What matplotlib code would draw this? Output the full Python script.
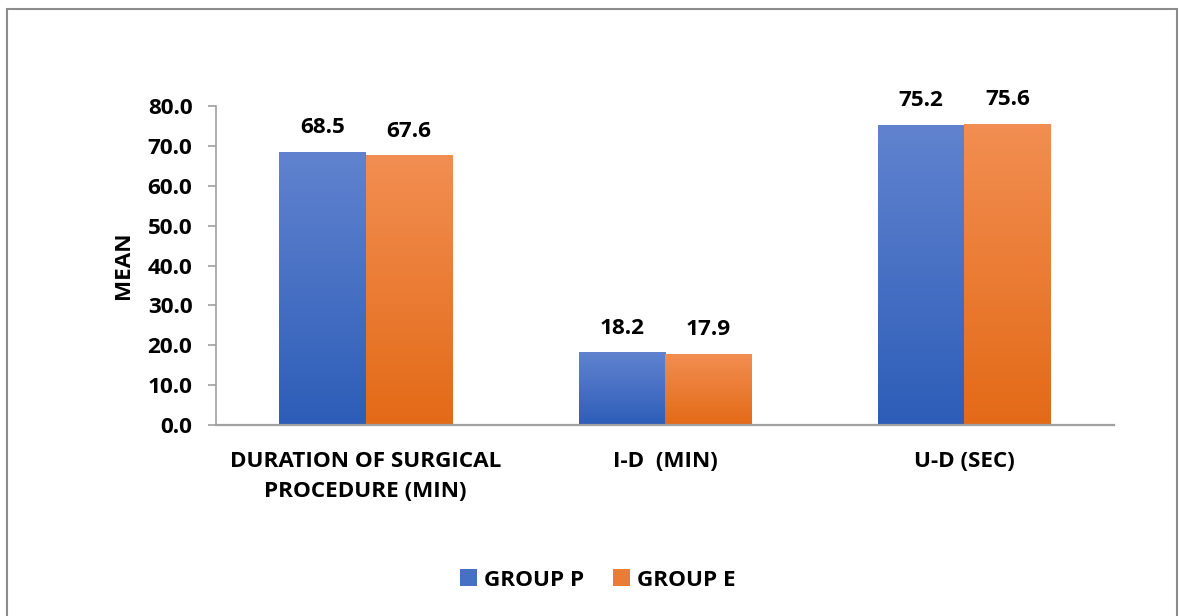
import numpy as np
import matplotlib.pyplot as plt
from matplotlib.colors import LinearSegmentedColormap
from matplotlib.patches import Rectangle

plt.rcParams['font.family'] = ['Open Sans', 'DejaVu Sans']
plt.rcParams['font.weight'] = 'bold'

categorias = ['DURATION OF SURGICAL\nPROCEDURE (MIN)', 'I-D  (MIN)', 'U-D (SEC)']
grupo_p = [68.5, 18.2, 75.2]
grupo_e = [67.6, 17.9, 75.6]
grupos = ['GROUP P', 'GROUP E']

# cores do gradiente (topo -> base)
cores = {
    'GROUP P': ('#6183cf', '#2d5db8'),
    'GROUP E': ('#f28e52', '#e36a17'),
}
fs = 16.2

fig = plt.figure(figsize=(11.79, 6.16), dpi=100)
ax = fig.add_axes([216 / 1179, (616 - 425) / 616, (1114 - 216) / 1179, 319 / 616])

x = np.arange(len(categorias))
largura = 0.288

for serie, valores, desloc in [('GROUP P', grupo_p, -largura / 2), ('GROUP E', grupo_e, largura / 2)]:
    topo, base = cores[serie]
    cmap = LinearSegmentedColormap.from_list(serie, [base, topo])
    barras = ax.bar(x + desloc, valores, largura, color=topo, label=serie, zorder=2)
    for b, v in zip(barras, valores):
        b.set_facecolor('none')
        grad = np.linspace(0, 1, 256).reshape(-1, 1)
        im = ax.imshow(grad, cmap=cmap, aspect='auto', origin='lower',
                       extent=[b.get_x(), b.get_x() + b.get_width(), 0, v], zorder=2)
        im.set_clip_path(b)
        ax.annotate(f'{v:.1f}', (b.get_x() + b.get_width() / 2, v), xytext=(0, 10),
                    textcoords='offset points', ha='center', va='bottom',
                    fontsize=fs, fontweight='bold')

ax.set_xlim(-0.5, 2.5)
ax.set_ylim(0, 80)
ax.set_yticks(np.arange(0, 81, 10))
ax.set_yticklabels([f'{t:.1f}' for t in np.arange(0, 81, 10)], fontsize=fs, fontweight='bold')
ax.set_xticks(x)
ax.set_xticklabels(categorias, fontsize=fs, fontweight='bold', linespacing=1.55)
ax.tick_params(axis='x', length=0, pad=19)
ax.tick_params(axis='y', length=6, width=1.2, color='#a0a0a0', pad=11)
for lado in ['top', 'right']:
    ax.spines[lado].set_visible(False)
ax.spines['left'].set_color('#a0a0a0')
ax.spines['left'].set_linewidth(1.2)
ax.spines['bottom'].set_color('#a0a0a0')
ax.spines['bottom'].set_linewidth(1.6)
ax.set_ylabel('MEAN', fontsize=fs, fontweight='bold', labelpad=10)

# legenda com quadrados
handles = []
for g in grupos:
    cm = LinearSegmentedColormap.from_list(g, [cores[g][1], cores[g][0]])
    handles.append(Rectangle((0, 0), 1, 1, facecolor=cm(0.5)))
fig.legend(handles, grupos, loc='center', bbox_to_anchor=(598 / 1179, 1 - 580 / 616),
           ncol=2, frameon=False, handlelength=0.75, handleheight=0.75,
           handletextpad=0.3, columnspacing=1.3, prop={'weight': 'bold', 'size': fs})

# moldura da figura
fig.add_artist(Rectangle((7 / 1179, -0.01), 1170 / 1179, 1 - 9 / 616 + 0.01,
                         transform=fig.transFigure, fill=False, edgecolor='#8c8c8c', linewidth=1.5))

fig.savefig('out.png', dpi=100)
